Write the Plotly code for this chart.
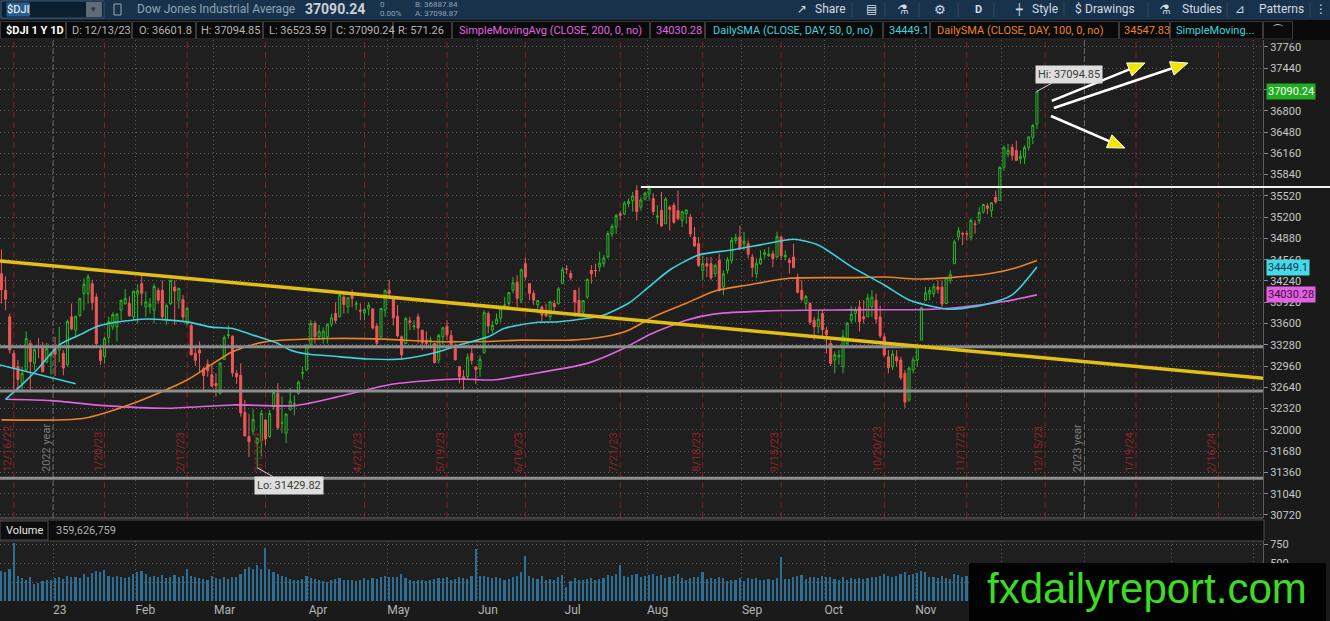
import pandas as pd
import plotly.graph_objects as go
from plotly.subplots import make_subplots

W, H = 1330, 621
ML, MR, MT, MB = 0, 67, 40, 20
PW, PH = W - ML - MR, H - MT - MB

# trading calendar (NYSE holidays) from the first bar into the empty right margin
HOLIDAYS = ["2022-12-26", "2023-01-02", "2023-01-16", "2023-02-20", "2023-04-07",
            "2023-05-29", "2023-06-19", "2023-07-04", "2023-09-04", "2023-11-23",
            "2023-12-25", "2024-01-01", "2024-01-15", "2024-02-19"]
sessions = pd.bdate_range("2022-12-13", "2024-03-15", freq="C", holidays=HOLIDAYS)
pos = {d.strftime("%Y-%m-%d"): i for i, d in enumerate(sessions)}

# ---- daily $DJI bars, 12/13/22 .. 12/13/23 ----
opens = [
    34350, 34100, 33700, 33150, 32950, 32700, 32900, 33300, 33000, 33250, 33260, 33020, 33121,
    33210, 33200, 33150, 32980, 33700, 33500, 33720, 34050, 34050, 34200, 34000, 33200, 33100, 33390, 33550, 33550, 33800, 33900, 33900, 33700,
    34040, 34200, 33850, 33850, 33800, 34100, 34100, 33650, 33900, 34150, 33950, 33960, 33600, 33570, 33150, 33200, 32920, 32990, 32830,
    32700, 32550, 33060, 33420, 33410, 32850, 32820, 32260, 31900, 31980, 31800, 31840, 32150, 31900, 32350, 32550, 32100, 31950, 32300, 32390, 32550, 32850, 32900,
    33280, 33600, 33400, 33380, 33400, 33590, 33750, 33700, 34000, 33850, 34060, 33890, 33800, 33760, 33820, 33820, 33560, 33400, 33800,
    34100, 34000, 33710, 33400, 33300, 33640, 33550, 33700, 33500, 33350, 33330, 33300, 33050, 33400, 33560, 33420, 33270, 32950, 32800, 32800, 33150, 32950,
    32920, 33160, 33750, 33500, 33600, 33680, 33870, 33900, 34100, 34220, 33950, 34500, 34200, 34050, 33880, 33850, 33750, 33700, 33900, 33900, 34200,
    34420, 34350, 34100, 33950, 33770, 34000, 34400, 34400, 34450, 34500, 34600, 34950, 35050, 35250, 35250, 35400, 35450, 35600, 35350, 35470,
    35550, 35480, 35200, 35300, 35100, 35350, 35380, 35300, 35150, 35250, 35200, 34900, 34800, 34400, 34500, 34500, 34350, 34550, 34150, 34400, 34550, 34850, 34900,
    34800, 34800, 34600, 34350, 34500, 34640, 34620, 34650, 34600, 34900, 34600, 34550, 34600, 34300, 34100, 33900, 33900, 33650, 33550, 33750,
    33500, 33300, 33050, 33100, 32950, 33300, 33650, 33750, 33850, 33700, 33700, 33850, 33950, 33700, 33400, 33100, 32950, 33100, 33050, 32850, 32450, 32900,
    33050, 33350, 33950, 34050, 34050, 34150, 34150, 33900, 34250, 34500, 34900, 34950, 34950, 34900, 35100, 35150, 35280, 35370, 35300, 35500, 35450,
    35950, 36150, 36250, 36200, 36080, 36100, 36250, 36400, 36601.8,
]
highs = [
    34712, 34311, 33750, 33200, 33050, 32950, 33480, 33350, 33230, 33380, 33320, 33310, 33150,
    33400, 33550, 33200, 33660, 33900, 33720, 33990, 34280, 34340, 34260, 34050, 33250, 33400, 33700, 33770, 33750, 33960, 34120, 34010, 34090,
    34190, 34330, 34080, 33980, 34200, 34140, 34250, 33900, 34260, 34250, 34140, 34030, 33850, 33600, 33230, 33330, 32950, 33060, 32970,
    32850, 33020, 33420, 33570, 33420, 32900, 33000, 32450, 32240, 32310, 31880, 32300, 32160, 32300, 32600, 32700, 32500, 32250, 32630, 32520, 32740, 32950, 33290,
    33650, 33640, 33580, 33540, 33600, 33750, 33920, 34050, 34080, 33990, 34110, 33940, 33900, 33830, 33920, 33830, 33600, 33830, 34110,
    34257, 34020, 33880, 33420, 33700, 33700, 33650, 33750, 33500, 33480, 33400, 33300, 33440, 33550, 33650, 33500, 33300, 32960, 32900, 33150, 33250, 32960,
    33120, 33800, 33780, 33640, 33750, 33860, 34000, 34070, 34300, 34330, 34430, 34590, 34200, 34100, 33950, 33870, 33900, 33940, 33950, 34150, 34450,
    34480, 34400, 34100, 34140, 33950, 34280, 34480, 34500, 34680, 34630, 34990, 35100, 35250, 35290, 35440, 35480, 35580, 35680, 35500, 35580,
    35680, 35560, 35380, 35580, 35500, 35380, 35420, 35600, 35300, 35320, 35250, 35050, 34900, 34620, 34600, 34600, 34500, 34650, 34400, 34600, 34900, 34950, 35070,
    34980, 34850, 34650, 34580, 34700, 34720, 34750, 34700, 34980, 34920, 34700, 34590, 34800, 34350, 34250, 34030, 33920, 33700, 33800, 33800,
    33550, 33350, 33180, 33200, 33500, 33620, 33860, 33850, 33950, 33950, 34050, 34100, 34050, 33870, 33450, 33200, 33200, 33200, 33100, 32900, 32950, 33100,
    33300, 33850, 34150, 34150, 34200, 34250, 34250, 34300, 34400, 34860, 35050, 34980, 35000, 35180, 35150, 35350, 35400, 35410, 35420, 35600, 35960,
    36280, 36300, 36300, 36350, 36200, 36280, 36420, 36600, 37094.85,
]
lows = [
    33900, 33800, 33150, 32575, 32600, 32580, 32880, 32580, 32900, 33080, 32860, 33000, 32830,
    32810, 33020, 32820, 32950, 33500, 33380, 33700, 33800, 33900, 33800, 33260, 32980, 33000, 33300, 33500, 33330, 33650, 33880, 33700, 33650,
    33600, 33870, 33700, 33750, 33600, 33900, 33650, 33580, 33880, 33580, 33820, 33620, 33570, 33120, 32960, 32870, 32580, 32800, 32650,
    32500, 32530, 33050, 33370, 32800, 32690, 32200, 31900, 31590, 31920, 31429.82, 31600, 31770, 31880, 32300, 32000, 31950, 31800, 32300, 32220, 32530, 32760, 32890,
    33260, 33300, 33350, 33300, 33300, 33550, 33600, 33700, 33750, 33750, 33850, 33800, 33650, 33650, 33720, 33510, 33250, 33380, 33700,
    34000, 33570, 33390, 33050, 33290, 33500, 33500, 33300, 33200, 33220, 33220, 33000, 33000, 33280, 33350, 33250, 33040, 32700, 32590, 32760, 32980, 32690,
    32800, 33150, 33450, 33450, 33580, 33620, 33840, 33850, 34050, 33850, 33900, 34250, 33950, 33880, 33750, 33630, 33700, 33650, 33750, 33880, 34200,
    34340, 34250, 33700, 33700, 33700, 33970, 34200, 34300, 34380, 34450, 34580, 34900, 34950, 35150, 35230, 35350, 35280, 35150, 35300, 35450,
    35450, 35230, 35100, 35050, 35100, 35000, 35100, 35150, 35050, 35100, 34900, 34750, 34450, 34250, 34300, 34250, 34300, 34080, 34030, 34350, 34500, 34800, 34710,
    34700, 34580, 34300, 34280, 34480, 34580, 34600, 34450, 34580, 34550, 34550, 34350, 34430, 34050, 33930, 33800, 33580, 33350, 33450, 33400,
    33150, 32960, 32850, 32980, 32850, 33250, 33600, 33620, 33480, 33600, 33700, 33700, 33600, 33380, 33100, 32850, 32900, 32950, 32750, 32330, 32420, 32850,
    32950, 33350, 33950, 33950, 34000, 34050, 33850, 33900, 34200, 34500, 34850, 34780, 34850, 34850, 34950, 35100, 35250, 35250, 35200, 35400, 35450,
    35900, 36100, 36050, 36050, 36000, 36000, 36200, 36300, 36523.59,
]
closes = [
    34109, 33966, 33202, 32920, 32758, 32850, 33376, 33027, 33204, 33242, 32876, 33221, 33147,
    33136, 33270, 32930, 33631, 33518, 33704, 33973, 34190, 34303, 33911, 33297, 33045, 33375, 33630, 33734, 33744, 33949, 33978, 33717, 34086,
    34093, 34054, 33926, 33891, 34157, 33949, 33700, 33869, 34246, 34089, 34128, 33697, 33827, 33130, 33045, 33154, 32817, 32889, 32657,
    32662, 33004, 33391, 33431, 32856, 32798, 32255, 31910, 31819, 32155, 31875, 32247, 31862, 32245, 32561, 32030, 32105, 32238, 32432, 32394, 32718, 32859, 33274,
    33601, 33402, 33483, 33485, 33587, 33685, 33647, 34030, 33886, 33987, 33977, 33897, 33787, 33809, 33875, 33531, 33302, 33826, 34098,
    34052, 33685, 33414, 33128, 33674, 33619, 33562, 33531, 33310, 33301, 33349, 33012, 33421, 33536, 33427, 33287, 33056, 32800, 32765, 33093, 33043, 32908,
    33062, 33763, 33563, 33573, 33665, 33834, 33877, 34066, 34212, 33979, 34408, 34299, 34054, 33952, 33947, 33727, 33715, 33927, 33853, 34122, 34408,
    34418, 34289, 33922, 33735, 33944, 34261, 34347, 34395, 34509, 34585, 34952, 35061, 35225, 35228, 35411, 35438, 35520, 35283, 35459, 35560,
    35631, 35283, 35216, 35066, 35473, 35314, 35123, 35176, 35281, 35308, 34946, 34766, 34475, 34501, 34464, 34289, 34473, 34099, 34347, 34560, 34853, 34890, 34722,
    34838, 34642, 34443, 34501, 34577, 34664, 34646, 34576, 34907, 34618, 34624, 34518, 34441, 34070, 33964, 34007, 33619, 33550, 33666, 33508,
    33433, 33002, 33130, 33120, 33408, 33605, 33739, 33805, 33631, 33670, 33985, 33998, 33665, 33414, 33127, 32936, 33141, 33036, 32784, 32418, 32929, 33053,
    33275, 33839, 34061, 34096, 34153, 34112, 33892, 34283, 34338, 34828, 34991, 34945, 34947, 35151, 35088, 35273, 35390, 35333, 35417, 35430, 35951,
    36246, 36204, 36125, 36054, 36117, 36248, 36405, 36578, 37090.24,
]
# volume, millions of shares
volumes = [
    400, 380, 420, 760, 330, 300, 280, 320, 230, 240, 260, 270, 280,
    300, 320, 290, 330, 310, 320, 300, 360, 310, 370, 390, 380, 410, 330, 320, 330, 320, 300, 310, 350,
    380, 400, 350, 320, 330, 320, 340, 300, 320, 340, 310, 330, 420, 330, 320, 300, 290, 280, 330,
    300, 290, 310, 290, 320, 310, 360, 420, 450, 420, 480, 420, 700, 420, 380, 360, 330, 320, 290, 280, 280, 290, 330,
    300, 290, 280, 260, 250, 270, 290, 300, 280, 270, 280, 260, 270, 300, 270, 300, 290, 310, 330,
    320, 320, 310, 350, 300, 270, 260, 280, 270, 260, 280, 290, 300, 300, 320, 270, 290, 310, 300, 290, 330, 680,
    330, 330, 310, 300, 310, 300, 280, 290, 310, 330, 380, 590, 330, 300, 290, 330, 280, 290, 270, 310, 340,
    190, 260, 300, 270, 280, 290, 300, 280, 290, 300, 340, 330, 350, 480, 330, 320, 340, 350, 320, 330,
    340, 360, 330, 340, 300, 320, 330, 350, 300, 280, 300, 310, 320, 380, 290, 300, 290, 320, 300, 260, 280, 270, 300,
    260, 300, 290, 300, 270, 280, 290, 280, 300, 580, 290, 290, 310, 330, 340, 290, 320, 320, 300, 330,
    310, 320, 290, 280, 310, 280, 300, 290, 300, 290, 300, 310, 320, 330, 360, 330, 320, 330, 350, 380, 340, 360,
    370, 390, 380, 320, 310, 300, 330, 300, 290, 360, 340, 310, 330, 290, 280, 260, 150, 300, 310, 330, 470,
    380, 340, 330, 310, 300, 300, 330, 330, 359.63,
]

# moving averages
sma50_dates = ["2022-12-14", "2022-12-20", "2022-12-27", "2023-01-04", "2023-01-11", "2023-01-18",
               "2023-01-23", "2023-02-02", "2023-02-10", "2023-02-17", "2023-02-28", "2023-03-07",
               "2023-03-14", "2023-03-22", "2023-03-27", "2023-03-31", "2023-04-11", "2023-04-24",
               "2023-05-04", "2023-05-17", "2023-05-24", "2023-06-05", "2023-06-09", "2023-06-22",
               "2023-06-29", "2023-07-11", "2023-07-17", "2023-07-25", "2023-08-01", "2023-08-08",
               "2023-08-17", "2023-08-29", "2023-09-12", "2023-09-20", "2023-09-28", "2023-10-10",
               "2023-10-20", "2023-10-30", "2023-11-07", "2023-11-13", "2023-11-24", "2023-12-05",
               "2023-12-13"]
sma50_vals = [32460, 32680, 32930, 33280, 33430, 33550, 33600, 33665, 33655, 33625, 33545, 33525,
              33425, 33300, 33200, 33140, 33110, 33066, 33066, 33176, 33277, 33401, 33528, 33618,
              33627, 33678, 33728, 33904, 34154, 34405, 34631, 34706, 34807, 34867, 34781, 34455,
              34179, 33954, 33853, 33814, 33878, 34030, 34449.1]

sma100_dates = ["2022-12-13", "2023-01-12", "2023-01-31", "2023-02-17", "2023-03-07", "2023-03-17",
                "2023-04-11", "2023-04-28", "2023-05-15", "2023-06-05", "2023-06-15", "2023-07-05",
                "2023-07-17", "2023-07-25", "2023-08-02", "2023-08-14", "2023-08-23", "2023-09-05",
                "2023-09-19", "2023-10-10", "2023-10-20", "2023-11-01", "2023-11-13", "2023-11-28",
                "2023-12-06", "2023-12-13"]
sma100_vals = [32150, 32175, 32400, 32750, 33175, 33325, 33375, 33365, 33330, 33330, 33350, 33350,
               33400, 33500, 33700, 33905, 34090, 34180, 34280, 34290, 34300, 34270, 34290, 34355,
               34440, 34547.83]

sma200_dates = ["2022-12-14", "2022-12-30", "2023-01-20", "2023-02-10", "2023-03-07", "2023-03-28",
                "2023-04-11", "2023-05-02", "2023-05-24", "2023-06-06", "2023-06-16", "2023-07-11",
                "2023-07-21", "2023-08-01", "2023-08-04", "2023-08-14", "2023-08-23", "2023-09-15",
                "2023-10-10", "2023-11-07", "2023-11-17", "2023-12-01", "2023-12-13"]
sma200_vals = [32460, 32440, 32365, 32325, 32375, 32365, 32475, 32690, 32765, 32750, 32825, 33000,
               33200, 33430, 33510, 33650, 33745, 33795, 33805, 33815, 33855, 33930, 34030.28]

# drawings on the chart
LEVELS_GREY = [33251, 32585, 31271]
LEVEL_WHITE = ("2023-07-28", 35654)
TRENDLINE = [("2022-12-13", 34538), ("2024-02-26", 32809)]
CYAN_LINE = [("2022-12-13", 32970), ("2023-01-10", 32695)]
ARROWS = [((254.6, 36948), (277.2, 37519)),
          ((255.1, 36842), (287.6, 37519)),
          ((254.4, 36722), (272.3, 36240))]
OPEX = ["2022-12-16", "2023-01-20", "2023-02-17", "2023-03-17", "2023-04-21", "2023-05-19",
        "2023-06-16", "2023-07-21", "2023-08-18", "2023-09-15", "2023-10-20", "2023-11-17",
        "2023-12-15", "2024-01-19", "2024-02-16"]
MONTH_NAMES = ["23", "Feb", "Mar", "Apr", "May", "Jun", "Jul", "Aug", "Sep", "Oct", "Nov",
               "", "", "", ""]

X_RANGE = [-0.35, 305.8]
Y_RANGE = [30674, 37865]
VOL_RANGE = [0, 790]

UP, DOWN = "#27b927", "#ef5757"
CYAN, MAGENTA, ORANGE = "#3fd2dc", "#e064e0", "#e8832a"
FONT = "Roboto, DejaVu Sans"


def px(x):
    return (x - ML) / PW


def py(y):
    return (H - MB - y) / PH


price_dom = [py(518), 1.0]
vol_dom = [0.0, py(541)]
SX = PW / (X_RANGE[1] - X_RANGE[0])
SY = (price_dom[1] - price_dom[0]) * PH / (Y_RANGE[1] - Y_RANGE[0])


def extend(p0, p1, x):
    (x0, y0), (x1, y1) = p0, p1
    return y0 + (y1 - y0) * (x - x0) / (x1 - x0)


xs = list(range(len(closes)))

fig = make_subplots(rows=2, cols=1, shared_xaxes=True, vertical_spacing=0.02)

fig.add_trace(go.Candlestick(
    x=xs, open=opens, high=highs, low=lows, close=closes,
    increasing=dict(line=dict(color=UP, width=1), fillcolor="rgba(0,0,0,0)"),
    decreasing=dict(line=dict(color=DOWN, width=1), fillcolor=DOWN),
    whiskerwidth=0, hoverinfo="skip", showlegend=False), row=1, col=1)

for dates, vals, col in [(sma200_dates, sma200_vals, MAGENTA),
                         (sma100_dates, sma100_vals, ORANGE),
                         (sma50_dates, sma50_vals, CYAN)]:
    fig.add_trace(go.Scatter(
        x=[pos[d] for d in dates], y=vals, mode="lines",
        line=dict(color=col, width=1.6, shape="spline", smoothing=0.7),
        hoverinfo="skip", showlegend=False), row=1, col=1)

fig.add_trace(go.Bar(x=xs, y=volumes, width=0.4, marker=dict(color="#2d6f94", line_width=0),
                     hoverinfo="skip", showlegend=False), row=2, col=1)

# month boundaries
month_x = []
for i in range(1, len(sessions)):
    if sessions[i].month != sessions[i - 1].month:
        month_x.append(i - 0.5)

grid = dict(showgrid=True, gridcolor="#5c5c5c", griddash="1px,3px", gridwidth=1, zeroline=False)
fig.update_xaxes(range=X_RANGE, tickvals=month_x, rangeslider_visible=False, **grid)
fig.update_xaxes(row=1, col=1, showticklabels=False, ticks="")
fig.update_xaxes(row=2, col=1, ticktext=MONTH_NAMES, ticks="", ticklabelposition="outside right",
                 tickfont=dict(size=12, color="#b4b4b4"))
ax_y = dict(side="right", ticks="outside", ticklen=4, tickcolor="#8a8a8a", tickformat="d",
            tickfont=dict(size=11, color="#c8c8c8"), showline=True, linecolor="#5a5a5a", **grid)
fig.update_yaxes(row=1, col=1, range=Y_RANGE, tick0=30720, dtick=320, domain=price_dom, **ax_y)
fig.update_yaxes(row=2, col=1, range=VOL_RANGE, tickvals=[250, 500, 750], domain=vol_dom, **ax_y)

shapes = []
annos = []


def box(x0, y0, x1, y1, fill, line=None, width=1):
    shapes.append(dict(type="rect", xref="paper", yref="paper", x0=px(x0), x1=px(x1),
                       y0=py(y1), y1=py(y0), fillcolor=fill, layer="above",
                       line=dict(color=line or fill, width=width if line else 0)))


def vline_px(x, y0, y1, color, width=1):
    shapes.append(dict(type="line", xref="paper", yref="paper", x0=px(x), x1=px(x),
                       y0=py(y1), y1=py(y0), line=dict(color=color, width=width), layer="above"))


def text(x, y, s, size=11, color="#b5b5b5", bold=False, anchor="left", family=FONT, bg=None):
    a = dict(xref="paper", yref="paper", x=px(x), y=py(y), text=f"<b>{s}</b>" if bold else s,
             showarrow=False, xanchor=anchor, yanchor="middle",
             font=dict(size=size, color=color, family=family))
    if bg:
        a.update(bgcolor=bg, borderpad=0)
    annos.append(a)


# option-expiration lines and year separators
for d in OPEX:
    shapes.append(dict(type="line", xref="x", yref="y domain", x0=pos[d], x1=pos[d], y0=0, y1=1,
                       line=dict(color="#861f1f", width=1, dash="6px,4px"), layer="below"))
    dt = pd.Timestamp(d)
    annos.append(dict(xref="x", yref="paper", x=pos[d], y=py(474), xshift=-7,
                      text=f"{dt.month}/{dt.day}/{dt.strftime('%y')}",
                      textangle=-90, showarrow=False, font=dict(size=11, color="#8e2424", family=FONT)))
for yr_idx, label in [(month_x[0], "2022 year"), (month_x[12], "2023 year")]:
    shapes.append(dict(type="line", xref="x", yref="y domain", x0=yr_idx, x1=yr_idx, y0=0, y1=1,
                       line=dict(color="#6e6e6e", width=1, dash="5px,3px"), layer="below"))
    annos.append(dict(xref="x", yref="paper", x=yr_idx, y=py(474), xshift=-7, text=label, textangle=-90,
                      showarrow=False, font=dict(size=11, color="#7a7a7a", family=FONT)))

# horizontal levels
for lv in LEVELS_GREY:
    shapes.append(dict(type="line", xref="x domain", yref="y", x0=0, x1=1, y0=lv, y1=lv,
                       line=dict(color="#8e8e8e", width=3)))
wy = (LEVEL_WHITE[1] - Y_RANGE[0]) / (Y_RANGE[1] - Y_RANGE[0])
wx = (pos[LEVEL_WHITE[0]] - X_RANGE[0]) / (X_RANGE[1] - X_RANGE[0])
shapes.append(dict(type="line", xref="x domain", yref="y domain", x0=wx, x1=W / PW, y0=wy, y1=wy,
                   line=dict(color="#f2f2f2", width=2)))

# trendlines
tp = [(pos[d], v) for d, v in TRENDLINE]
shapes.append(dict(type="line", xref="x", yref="y", x0=X_RANGE[0], x1=X_RANGE[1],
                   y0=extend(tp[0], tp[1], X_RANGE[0]), y1=extend(tp[0], tp[1], X_RANGE[1]),
                   line=dict(color="#e3bf14", width=3.5)))
cp = [(pos[d], v) for d, v in CYAN_LINE]
shapes.append(dict(type="line", xref="x", yref="y", x0=X_RANGE[0], x1=cp[1][0],
                   y0=extend(cp[0], cp[1], X_RANGE[0]), y1=cp[1][1],
                   line=dict(color=CYAN, width=1.5)))

# arrows: white shaft, yellow head
for tail, tip in ARROWS:
    dx = (tip[0] - tail[0]) * SX
    dy = -(tip[1] - tail[1]) * SY
    n = (dx * dx + dy * dy) ** 0.5
    ux, uy = dx / n, dy / n
    L, Wd = 17, 7
    bx, by = -ux * L, -uy * L
    offs = [(0, 0), (bx - uy * Wd, by + ux * Wd), (bx + uy * Wd, by - ux * Wd)]
    pts = [(tip[0] + ox / SX, tip[1] - oy / SY) for ox, oy in offs]
    base = (tip[0] + bx * 0.6 / SX, tip[1] - by * 0.6 / SY)
    shapes.append(dict(type="line", xref="x", yref="y", x0=tail[0], y0=tail[1], x1=base[0], y1=base[1],
                       line=dict(color="#ffffff", width=2.5)))
    path = "M {},{} L {},{} L {},{} Z".format(*[c for p in pts for c in p])
    shapes.append(dict(type="path", xref="x", yref="y", path=path, fillcolor="#f2e600",
                       line=dict(color="#ffffff", width=1)))

# hi / lo bubbles
hi_i = highs.index(max(highs))
lo_i = lows.index(min(lows))
annos.append(dict(x=hi_i, y=highs[hi_i], xref="x", yref="y", text=f"Hi: {highs[hi_i]:.2f}", showarrow=True,
                  arrowhead=0, arrowwidth=1, arrowcolor="#d0d0d0", ax=32, ay=-17, bgcolor="#dedede",
                  borderpad=2, font=dict(size=11, color="#3a3a3a", family=FONT)))
annos.append(dict(x=lo_i, y=lows[lo_i], xref="x", yref="y", text=f"Lo: {lows[lo_i]:.2f}", showarrow=True,
                  arrowhead=0, arrowwidth=1, arrowcolor="#d0d0d0", ax=32, ay=18, bgcolor="#dedede",
                  borderpad=2, font=dict(size=11, color="#3a3a3a", family=FONT)))

# price tags on the axis
for val, label, bg, fg in [(closes[-1], f"{closes[-1]:.2f}", "#1fae1f", "#ffffff"),
                           (sma50_vals[-1], f"{sma50_vals[-1]:.1f}", "#43dbe6", "#17365a"),
                           (sma200_vals[-1], f"{sma200_vals[-1]:.2f}", "#e261e2", "#3a0f3e")]:
    annos.append(dict(xref="paper", yref="y", x=px(1266), y=val, xanchor="left", yanchor="middle",
                      text=label, showarrow=False,
                      bgcolor=bg, borderpad=1, font=dict(size=11, color=fg, family=FONT)))

# pane separators and volume header
shapes.append(dict(type="line", xref="paper", yref="paper", x0=0, x1=1, y0=py(518), y1=py(518),
                   line=dict(color="#6a6a6a", width=1), layer="above"))
box(0, 520, 1264, 541, "#0d0d0d", "#4a4a4a")
box(0, 521, 48, 540, "#0d0d0d", "#4a4a4a")
text(4, 530.5, "Volume", 11, "#e6e6e6")
text(54, 530.5, "359,626,759", 11, "#b0b0b0")

# top toolbar
box(0, 0, W, 20, "#18324b")
box(1, 1, 104, 18, "#0c1f31", "#3d5874")
text(6, 9.5, "$DJI", 11, "#ffffff", bg="#2a5d8f")
vline_px(29, 4, 15, "#ffffff", 1)
box(86, 2, 102, 17, "#5f6b77")
text(94, 9.5, "▾", 9, "#2a3542", anchor="center")
box(114, 4, 121, 15, "#18324b", "#9aa8b5")
text(135, 9.5, "Dow Jones Industrial Average", 12, "#8fa2b4")
text(303, 9.5, "37090.24", 14, "#c8d0d8", bold=True)
text(378, 5, "0", 8, "#8fa2b4")
text(378, 14, "0.00%", 8, "#8fa2b4")
text(413, 5, "B: 36887.84", 8, "#8fa2b4")
text(413, 13.5, "A: 37098.87", 8, "#8fa2b4")
for sx in [852, 885, 919, 958, 994, 1064, 1148, 1227, 1310]:
    vline_px(sx, 2, 17, "#33475a")
for x, s, sz in [(795, "↗", 12), (813, "Share", 12), (864, "▤", 12), (895, "⚗", 13), (932, "⚙", 13),
                 (973, "D", 11), (1013, "┿", 11), (1030, "Style", 12), (1073, "$", 12),
                 (1083, "Drawings", 12), (1157, "⚗", 13), (1180, "Studies", 12), (1233, "⊿", 12),
                 (1257, "Patterns", 12)]:
    text(x, 9.5, s, sz, "#d3dbe3", bold=(s == "D"))
text(1321, 9.5, "⋮", 12, "#d3dbe3", anchor="center")

# study header row
box(0, 20, W, 40, "#0a0a0a")
for x0, x1 in [(0, 66), (66, 132), (132, 196), (196, 263), (263, 331), (331, 393), (393, 452),
               (452, 650), (650, 705), (705, 883), (883, 930), (930, 1119), (1119, 1170),
               (1170, 1263), (1263, 1293)]:
    box(x0 + 0.5, 21.5, x1 - 0.5, 39, "#0a0a0a", "#3a3a3a")
text(4, 30, "$DJI 1 Y 1D", 11, "#ffffff", bold=True)
for x, s in [(70, "D: 12/13/23"), (137, "O: 36601.8"), (199, "H: 37094.85"), (267, "L: 36523.59"),
             (334, "C: 37090.24"), (396, "R: 571.26")]:
    text(x, 30, s, 11, "#b5b5b5")
text(457, 30, "SimpleMovingAvg (CLOSE, 200, 0, no)", 11, MAGENTA)
text(654, 30, f"{sma200_vals[-1]:.2f}", 11, MAGENTA)
text(711, 30, "DailySMA (CLOSE, DAY, 50, 0, no)", 11, CYAN)
text(887, 30, f"{sma50_vals[-1]:.1f}", 11, CYAN)
text(935, 30, "DailySMA (CLOSE, DAY, 100, 0, no)", 11, ORANGE)
text(1122, 30, f"{sma100_vals[-1]:.2f}", 11, ORANGE)
text(1174, 30, "SimpleMoving...", 11, CYAN)
text(1278, 30, "⌒", 12, "#e0e0e0", anchor="center")

# watermark
box(969, 563, 1326, 621, "#020202")
text(1147, 588, "fxdailyreport.com", 42, "#3cdc23", anchor="center", family="Liberation Sans, Arial")

fig.update_layout(
    width=W, height=H, margin=dict(l=ML, r=MR, t=MT, b=MB),
    paper_bgcolor="#1a1a1a", plot_bgcolor="#1f1f1f", showlegend=False,
    font=dict(family=FONT, color="#c8c8c8", size=11),
    shapes=shapes, annotations=annos, bargap=0,
)

fig.write_html("out.html", config={"displayModeBar": False},
               post_script="document.body.style.margin='0';document.body.style.overflow='hidden';")
